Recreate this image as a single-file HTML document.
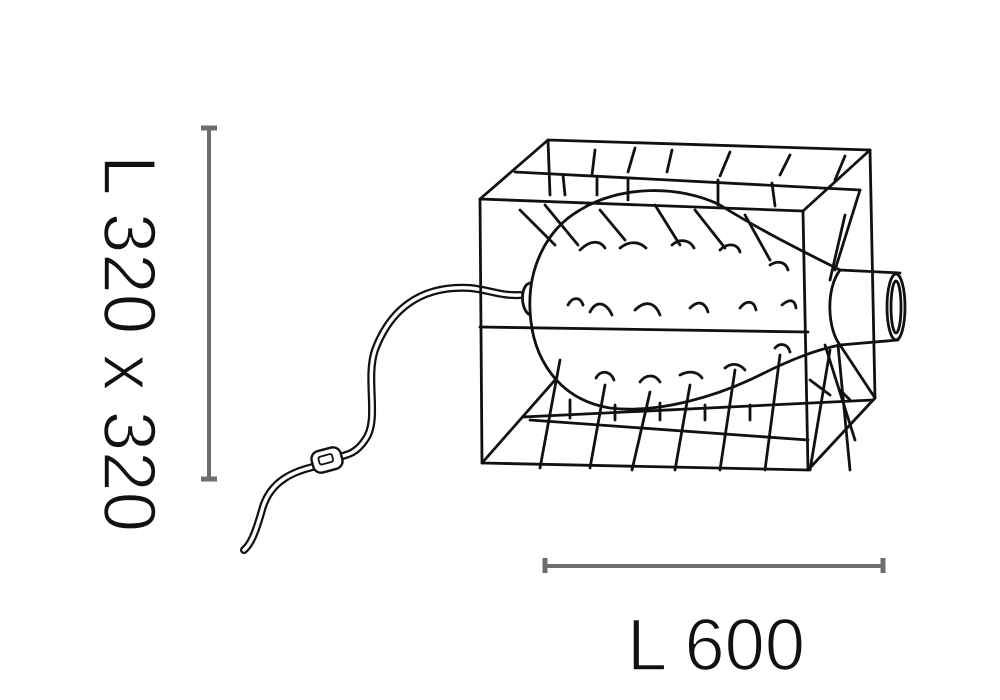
<!DOCTYPE html>
<html><head><meta charset="utf-8"><style>
html,body{margin:0;padding:0;background:#fff;width:1000px;height:700px;overflow:hidden}
</style></head><body>
<svg width="1000" height="700" viewBox="0 0 1000 700" xmlns="http://www.w3.org/2000/svg">
<g stroke="#6e6e6e" fill="none">
<line x1="209" y1="128" x2="209" y2="479" stroke-width="4"/>
<line x1="201" y1="128" x2="217" y2="128" stroke-width="5"/>
<line x1="201" y1="479" x2="217" y2="479" stroke-width="5"/>
<line x1="545" y1="566" x2="883" y2="566" stroke-width="4"/>
<line x1="545" y1="558" x2="545" y2="573" stroke-width="5"/>
<line x1="883" y1="558" x2="883" y2="573" stroke-width="5"/>
</g>
<g font-family="Liberation Sans, sans-serif" fill="#111" stroke="#fff" stroke-width="1.6" paint-order="normal">
<text x="627" y="670" font-size="73" textLength="178" lengthAdjust="spacingAndGlyphs">L 600</text>
<text transform="translate(104,155) rotate(90)" x="0" y="0" font-size="74" textLength="377" lengthAdjust="spacingAndGlyphs">L 320 x 320</text>
</g>
<g fill="none" stroke-linecap="round" stroke-linejoin="round">
<path d="M520,295 C500,296 490,290 470,288 C420,285 390,310 375,350 C365,380 380,420 365,440 C355,455 345,455 335,458 M322,465 C295,470 270,480 262,510 C255,535 250,545 244,550" stroke="#111" stroke-width="8"/>
<path d="M520,295 C500,296 490,290 470,288 C420,285 390,310 375,350 C365,380 380,420 365,440 C355,455 345,455 335,458 M322,465 C295,470 270,480 262,510 C255,535 250,545 244,550" stroke="#fff" stroke-width="3.5"/>
<rect x="312" y="449" width="30" height="22" rx="8" transform="rotate(-15 327 460)" stroke="#111" stroke-width="2.4" fill="#fff"/>
<rect x="319" y="455" width="14" height="8" rx="2" transform="rotate(-15 327 460)" stroke="#111" stroke-width="1.8"/>
</g>
<g fill="none" stroke="#111" stroke-width="2.8" stroke-linecap="round" stroke-linejoin="round">
<path d="M480,199 L803,211 L808,470 L482,463 Z"/>
<path d="M548,140 L870,150 L875,398 M548,140 L550,195"/>
<path d="M480,199 L548,140 M803,211 L870,150 M808,470 L875,398 M482,463 L555,380"/>
<path d="M515,172 L860,190 M523,417 L873,400 M530,420 L808,440"/>
<path d="M480,327 L808,332"/>
<path d="M595,150 L592,175 M635,148 L628,172 M672,150 L667,172 M730,152 L720,176 M790,155 L780,175 M845,156 L835,180 M563,175 L565,195 M597,177 L597,195 M628,178 L628,200 M718,180 L718,205 M772,183 L775,206 M520,210 L555,245 M545,205 L578,245 M600,210 L625,240 M655,205 L680,245 M695,210 L725,248 M745,215 L770,260"/>
<path d="M560,360 L540,468 M605,385 L590,468 M650,392 L632,470 M690,385 L675,470 M735,370 L720,470 M780,355 L765,470 M830,350 L810,470 M570,400 L570,418 M615,405 L615,420 M660,403 L660,420 M705,405 L705,420 M750,405 L750,420 M840,390 L850,400 M810,380 L830,395"/>
<path d="M840,345 L875,398 M825,345 L855,440 M838,345 L850,470 M860,190 L835,270 M845,215 L830,280"/>
<path d="M840,270 C800,250 760,230 720,205 C680,185 620,185 580,210 C545,230 528,270 530,310 C532,360 560,400 610,408 C660,414 720,395 760,375 C790,360 815,350 840,345"/>
<path d="M530,283 C520,285 520,310 530,315"/>
<path d="M840,270 L900,273 M840,345 L898,340 M840,270 C825,290 828,330 840,345"/>
<ellipse cx="896" cy="307" rx="9" ry="33"/>
<ellipse cx="896" cy="307" rx="5" ry="26"/>
<path d="M580,250 C590,240 600,240 605,248 M620,248 C630,240 640,242 646,248 M672,245 C680,238 690,240 694,248 M720,250 C728,242 738,244 740,252 M770,265 C778,260 786,262 788,270 M568,305 C572,297 580,296 583,305 M590,312 C596,300 606,302 612,315 M635,310 C645,300 655,302 660,315 M690,308 C698,300 705,302 708,312 M740,308 C746,300 754,300 756,310 M782,305 C790,298 795,300 796,308 M775,348 C780,342 788,344 790,352 M596,378 C600,370 610,370 614,380 M640,382 C646,374 655,374 660,382 M680,375 C690,370 698,372 702,378 M725,368 C732,362 740,364 745,370"/>
</g>
</svg>
</body></html>
